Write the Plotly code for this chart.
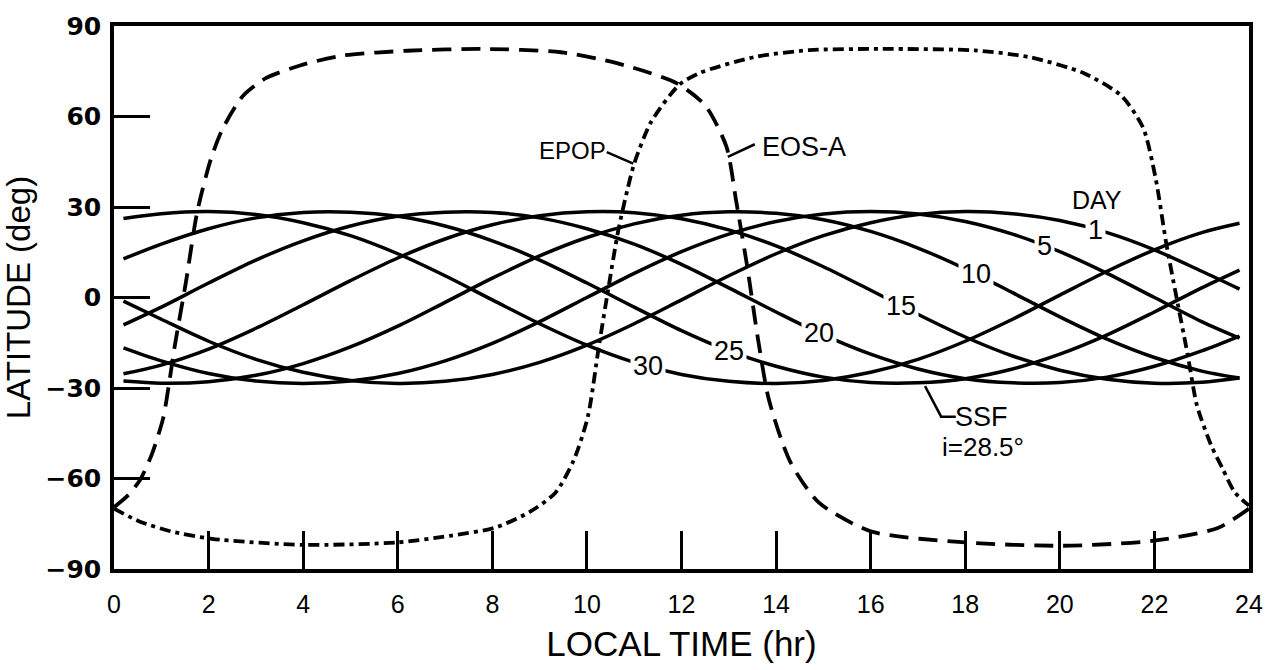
import plotly.graph_objects as go

# ---- data -------------------------------------------------------------
# SSF sub-satellite track (i = 28.5 deg) for selected days: latitude vs local time
ssf_hours = [0.2, 1, 2, 3, 4, 5, 6, 7, 8, 9, 10, 11, 12,
             13, 14, 15, 16, 17, 18, 19, 20, 21, 22, 23, 23.8]
day_names = ["1", "5", "10", "15", "20", "25", "30"]

ssf_day1 = [-1.2, -7.2, -14.5, -20.5, -24.8, -27.5, -28.5, -27.8, -25.5, -21.5, -15.8, -8.7, -0.8,
            7.2, 14.5, 20.5, 24.8, 27.5, 28.5, 27.8, 25.5, 21.5, 15.8, 8.7, 2.8]
ssf_day5 = [-16.7, -21.0, -25.2, -27.7, -28.5, -27.7, -25.2, -21.0, -15.2, -8.0, 0.0, 8.0, 15.2,
            21.0, 25.2, 27.7, 28.5, 27.7, 25.2, 21.0, 15.2, 8.0, 0.0, -8.0, -13.5]
ssf_day10 = [-27.7, -28.4, -27.9, -25.8, -21.9, -16.4, -9.5, -1.6, 6.4, 13.8, 19.9, 24.4, 27.3,
             28.4, 27.9, 25.8, 21.9, 16.4, 9.5, 1.6, -6.4, -13.8, -19.9, -24.4, -26.7]
ssf_day15 = [-25.3, -22.4, -17.1, -10.2, -2.4, 5.6, 13.1, 19.4, 24.1, 27.1, 28.4, 28.1, 26.1,
             22.4, 17.1, 10.2, 2.4, -5.6, -13.1, -19.4, -24.1, -27.1, -28.4, -28.1, -26.7]
ssf_day20 = [-9.1, -3.2, 4.8, 12.4, 18.8, 23.7, 26.9, 28.3, 28.2, 26.4, 22.8, 17.7, 11.0,
             3.2, -4.8, -12.4, -18.8, -23.7, -26.9, -28.3, -28.2, -26.4, -22.8, -17.7, -12.8]
ssf_day25 = [12.8, 17.7, 22.8, 26.4, 28.2, 28.3, 26.9, 23.7, 18.8, 12.4, 4.8, -3.2, -11.0,
             -17.7, -22.8, -26.4, -28.2, -28.3, -26.9, -23.7, -18.8, -12.4, -4.8, 3.2, 9.1]
ssf_day30 = [26.2, 27.8, 28.5, 27.5, 24.8, 20.5, 14.5, 7.2, -0.8, -8.7, -15.8, -21.5, -25.5,
             -27.8, -28.5, -27.5, -24.8, -20.5, -14.5, -7.2, 0.8, 8.7, 15.8, 21.5, 24.6]
ssf_tracks = [ssf_day1, ssf_day5, ssf_day10, ssf_day15, ssf_day20, ssf_day25, ssf_day30]

# where each day number sits along its track (local time, hr)
day_label_hr = [20.75, 19.67, 18.23, 16.64, 14.9, 13.0, 11.3]

# EOS-A polar platform (long dashes)
eos_hr = [0.0, 0.3, 0.55, 0.8, 1.04, 1.16, 1.28, 1.52, 1.76, 2.05, 2.3, 2.73, 3.21, 3.95,
          4.84, 6.2, 7.8, 9.45, 10.65, 11.88, 12.5, 12.95, 13.16, 13.39, 13.62, 13.85,
          14.3, 14.9, 16.0, 18.0, 20.05, 21.95, 23.34, 24.0]
eos_lat = [-69.5, -65.5, -60.5, -52, -40, -29, -16.5, 5, 28.4, 46, 56, 66.9, 72.7, 77,
           80.2, 81.8, 82.4, 81.3, 77.6, 71.2, 63.7, 50, 31.6, 10.2, -14, -34,
           -54.5, -67.9, -77.5, -81.2, -82.3, -80.7, -76.4, -70]

# EPOP polar platform (dash-dot)
epop_hr = [0.0, 0.55, 1.2, 2.07, 4.0, 5.98, 7.1, 8.04, 8.8, 9.34, 9.72, 10.02, 10.25, 10.45,
           10.66, 10.86, 11.0, 11.35, 11.95, 12.38, 13.54, 14.7, 16.25, 18.2, 19.35, 20.5,
           21.3, 21.76, 22.02, 22.25, 22.46, 22.7, 22.9, 23.2, 23.45, 23.7, 24.0]
epop_lat = [-70, -74.3, -77.5, -80, -82, -81.2, -79, -76.4, -71, -64.6, -54, -39.5, -16.5, 2.7,
            22, 36, 44.4, 58, 70.5, 74.4, 79.7, 82, 82.4, 81.9, 79.7, 74.4,
            66.9, 56.3, 40, 18, 0.6, -18.7, -35.8, -49, -57, -64.6, -69]

x_ticks = [0, 2, 4, 6, 8, 10, 12, 14, 16, 18, 20, 22, 24]
y_ticks = [-90, -60, -30, 0, 30, 60, 90]
y_tick_text = ["\u221290", "\u221260", "\u221230", "0", "30", "60", "90"]

# ---- figure -----------------------------------------------------------
fig = go.Figure()

for name, lat in zip(day_names, ssf_tracks):
    fig.add_trace(go.Scatter(
        x=ssf_hours, y=lat, mode="lines", name="Day " + name,
        line=dict(color="black", width=3.5, shape="spline", smoothing=0.9),
        hoverinfo="skip"))

fig.add_trace(go.Scatter(
    x=eos_hr, y=eos_lat, mode="lines", name="EOS-A",
    line=dict(color="black", width=3.8, dash="19px,10px", shape="spline", smoothing=0.7),
    hoverinfo="skip"))
fig.add_trace(go.Scatter(
    x=epop_hr, y=epop_lat, mode="lines", name="EPOP",
    line=dict(color="black", width=3.8, dash="11px,5px,4px,5px", shape="spline", smoothing=0.7),
    hoverinfo="skip"))


def interp(xs, ys, x):
    for i in range(len(xs) - 1):
        if xs[i] <= x <= xs[i + 1]:
            t = (x - xs[i]) / (xs[i + 1] - xs[i])
            return ys[i] + t * (ys[i + 1] - ys[i])
    return ys[-1]


label_font = dict(family="Liberation Sans Narrow, Liberation Sans, Arial", size=27, color="black")
annotations = []
for name, lat, hr in zip(day_names, ssf_tracks, day_label_hr):
    annotations.append(dict(
        x=hr, y=interp(ssf_hours, lat, hr), text=name, showarrow=False,
        font=label_font, bgcolor="white", borderpad=2))

annotations += [
    dict(x=20.79, y=32.2, text="DAY", showarrow=False, font=dict(
        family="Liberation Sans Narrow, Liberation Sans, Arial", size=25, color="black")),
    dict(x=9.7, y=48.7, text="EPOP", showarrow=False, font=dict(
        family="Liberation Sans, Arial", size=24, color="black")),
    dict(x=14.6, y=49.8, text="EOS-A", showarrow=False, font=dict(
        family="Liberation Sans, Arial", size=27, color="black")),
    dict(x=18.34, y=-39.5, text="SSF", showarrow=False, font=dict(
        family="Liberation Sans Narrow, Liberation Sans, Arial", size=27, color="black")),
    dict(x=18.38, y=-49.6, text="i=28.5\u00b0", showarrow=False, font=dict(
        family="Liberation Sans Narrow, Liberation Sans, Arial", size=26, color="black")),
]

leader = dict(color="black", width=2.5)
shapes = [
    dict(type="line", xref="x", yref="y", x0=10.42, y0=48.2, x1=10.98, y1=44.4, line=leader),
    dict(type="line", xref="x", yref="y", x0=12.98, y0=46.6, x1=13.55, y1=50.8, line=leader),
    dict(type="path", xref="x", yref="y",
         path="M 17.15,-29.4 L 17.49,-39.5 L 17.8,-39.5", line=leader),
]

fig.update_layout(
    width=1275, height=670,
    margin=dict(l=114, r=26, t=18, b=91),
    paper_bgcolor="white", plot_bgcolor="white",
    showlegend=False,
    annotations=annotations, shapes=shapes,
    xaxis=dict(
        range=[0, 24], tickvals=x_ticks, ticks="inside", ticklen=38, tickwidth=2.5,
        tickcolor="black", showline=True, mirror=True, linecolor="black", linewidth=3.5,
        showgrid=False, zeroline=False, ticklabelstandoff=10,
        tickfont=dict(family="Liberation Sans, Arial", size=25, color="black"),
        title=dict(text="LOCAL TIME (hr)", standoff=16,
                   font=dict(family="Liberation Sans, Arial", size=35, color="black"))),
    yaxis=dict(
        range=[-90, 90], tickvals=y_ticks, ticktext=y_tick_text, ticks="inside",
        ticklen=36, tickwidth=3, tickcolor="black", showline=True, mirror=True,
        linecolor="black", linewidth=3.5, showgrid=False, zeroline=False,
        ticklabelstandoff=4,
        tickfont=dict(family="DejaVu Sans, Arial", size=25, color="black", weight="bold"),
        title=dict(text="LATITUDE (deg)", standoff=6,
                   font=dict(family="Liberation Sans, Arial", size=33, color="black"))),
)

fig.write_html("out.html")
